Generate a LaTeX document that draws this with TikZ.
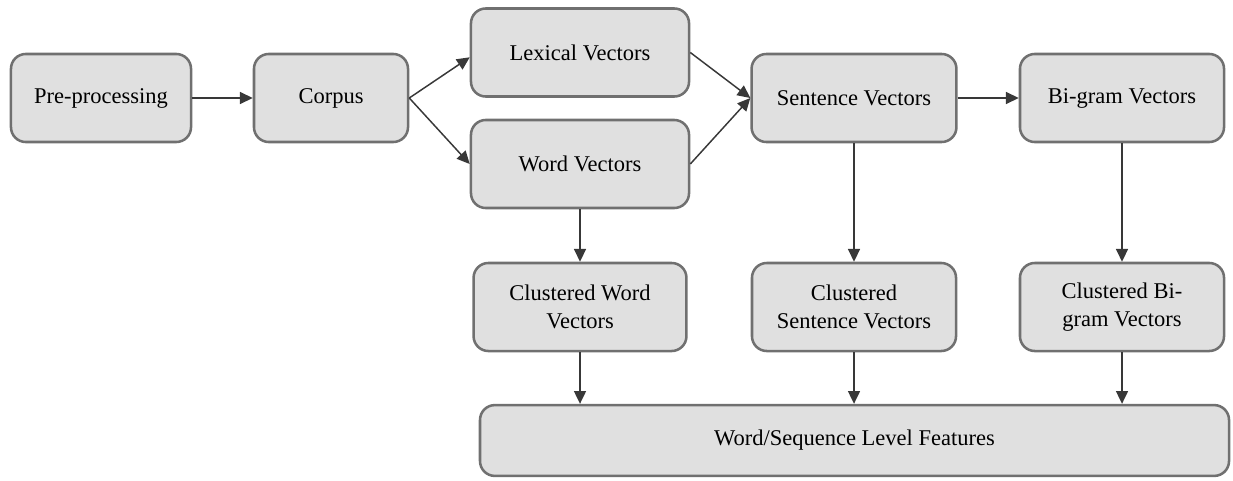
\documentclass[tikz,border=0pt]{standalone}
\usepackage{fontspec}
\setmainfont{Liberation Serif}
\usetikzlibrary{arrows.meta}
\definecolor{boxfill}{HTML}{E0E0E0}
\definecolor{boxline}{HTML}{707070}
\definecolor{arrowcol}{HTML}{383838}
\tikzstyle{stagebox} = [draw=boxline, fill=boxfill, line width=1.8pt,
    rectangle, rounded corners=0.37cm, align=center,
    minimum height=2.2cm, inner sep=2pt,
    font=\rmfamily\fontsize{16}{20}\selectfont]
\tikzstyle{flow} = [draw=arrowcol, line width=1.05pt,
    -{Triangle[length=0.32cm, width=0.3cm]}]

\begin{document}
\begin{tikzpicture}[x=0.025cm, y=-0.025cm]
\useasboundingbox (0,0) rectangle (1233,480);

% top row
\node[stagebox, minimum width=4.5cm] (pre) at (101,98) {Pre-processing};
\node[stagebox, minimum width=3.85cm] (corpus) at (331,98) {Corpus};
\node[stagebox, minimum width=5.45cm] (lexical) at (580,52.5) {Lexical Vectors};
\node[stagebox, minimum width=5.45cm] (word) at (580,164) {Word Vectors};
\node[stagebox, minimum width=5.12cm] (sentence) at (854,98) {Sentence Vectors};
\node[stagebox, minimum width=5.1cm] (bigram) at (1122,98) {Bi-gram Vectors};

% clustered row
\node[stagebox, minimum width=5.32cm] (cword) at (580,307) {Clustered Word\\Vectors};
\node[stagebox, minimum width=5.1cm] (csentence) at (854,307) {Clustered\\Sentence Vectors};
\node[stagebox, minimum width=5.1cm] (cbigram) at (1122,307) {Clustered Bi-\\gram Vectors};

% features
\node[stagebox, minimum width=18.72cm, minimum height=1.77cm] (features) at (854.5,440.5) {Word/Sequence Level Features};

\draw[flow] (pre) -- (corpus);
\draw[flow] (corpus.east) -- ([yshift=-0.12cm]lexical.west);
\draw[flow] (corpus.east) -- (word.west);
\draw[flow] (lexical.east) -- (sentence.west);
\draw[flow] (word.east) -- (sentence.west);
\draw[flow] (sentence) -- (bigram);

\draw[flow] (word.south) -- (cword.north);
\draw[flow] (sentence.south) -- (csentence.north);
\draw[flow] (bigram.south) -- (cbigram.north);

\draw[flow] (cword.south) -- (cword.south |- features.north);
\draw[flow] (csentence.south) -- (csentence.south |- features.north);
\draw[flow] (cbigram.south) -- (cbigram.south |- features.north);

\end{tikzpicture}
\end{document}
